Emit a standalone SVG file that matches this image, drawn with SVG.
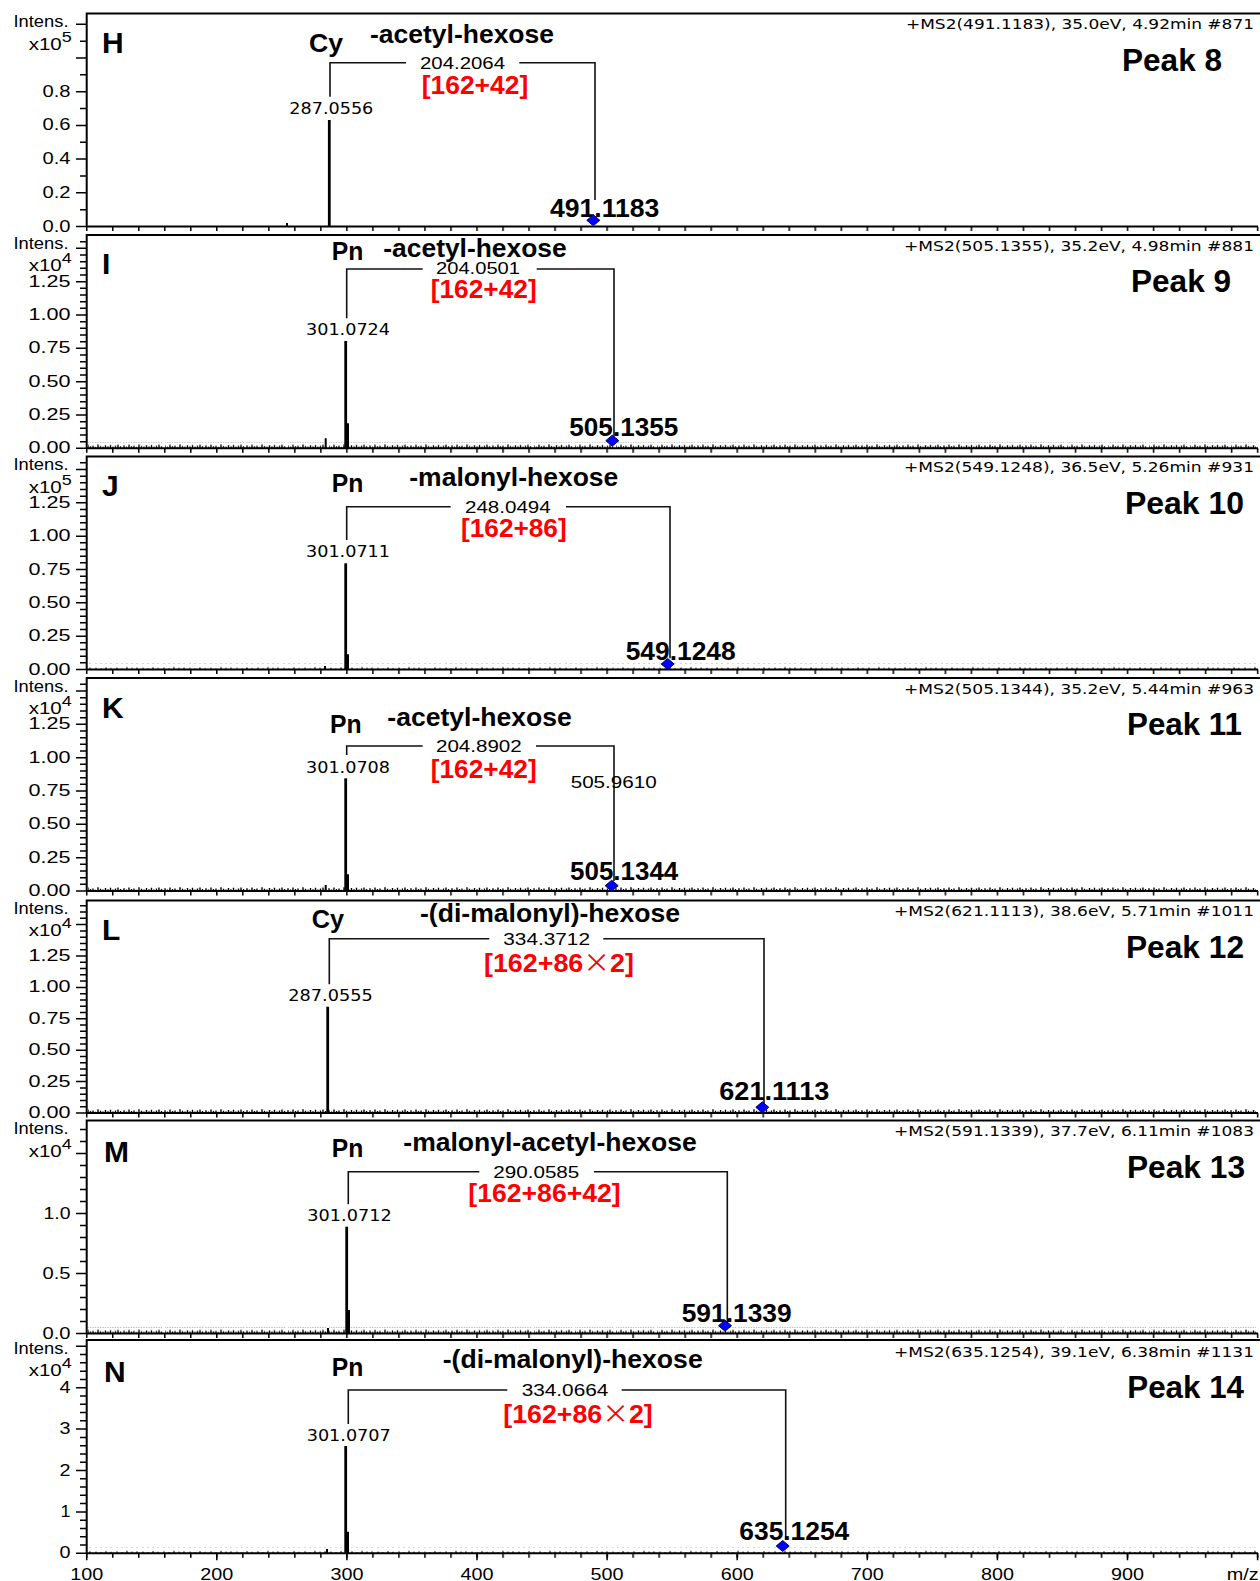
<svg xmlns="http://www.w3.org/2000/svg" xmlns:xlink="http://www.w3.org/1999/xlink" width="1260" height="1581" viewBox="0 0 1260 1581">
<style>
text{font-family:'Liberation Sans',Arial,sans-serif;fill:#000}
.ax{font-size:16px}
.ex{font-size:14px}
.lt{font-size:30px;font-weight:bold}
.cp{font-size:26px;font-weight:bold}
.fr{font-size:16px}
.red{font-size:26px;font-weight:bold;fill:#ff0000}
.ion{font-size:25px;font-weight:bold}
.pk{font-family:'DejaVu Sans',Verdana,sans-serif;font-size:15px}
.hd{font-family:'DejaVu Sans',Verdana,sans-serif;font-size:14px}
.peak{font-size:31px;font-weight:bold}
.cjk{font-family:'Noto Sans CJK SC',sans-serif;font-weight:normal}
.frame{fill:none;stroke:#000;stroke-width:2}
.tick{fill:none;stroke:#000;stroke-width:1.5}
.stick{fill:none;stroke:#000;stroke-width:2.8}
.stick2{fill:none;stroke:#000;stroke-width:2}
.br{fill:none;stroke:#111;stroke-width:1.6}
.dia{fill:#0000ff;stroke:#000066;stroke-width:1}
</style>
<defs>
<pattern id="xt" patternUnits="userSpaceOnUse" x="85.95" y="0" width="26.02" height="10"><rect width="1.5" height="10" fill="#000"/></pattern>
<pattern id="pA" patternUnits="userSpaceOnUse" x="0" y="-6" width="41" height="6"><path d="M1 6V3.2M3.5 6V4.5M6 6V2.6M8.5 6V4M11 6V3.4M13.5 6V4.8M16 6V2.2M18.5 6V3.8M21 6V4.4M23.5 6V3M26 6V4.2M28.5 6V2.8M31 6V4.6M33.5 6V3.5M36 6V2.5M38.5 6V4.1" stroke="#000" stroke-width="1.4" fill="none"/></pattern>
<pattern id="pB" patternUnits="userSpaceOnUse" x="0" y="-6" width="47" height="6"><path d="M2 6V4.4M7 6V4.9M12 6V3.9M17 6V4.7M23 6V4.2M28 6V5M33 6V3.8M38 6V4.6M43 6V4.3" stroke="#000" stroke-width="1.3" fill="none"/></pattern>
<rect id="nzA" x="88" y="-6" width="1168" height="6" fill="url(#pA)"/>
<rect id="nzB" x="88" y="-6" width="1168" height="6" fill="url(#pB)"/>
<path id="ytH" class="tick" d="M76 0h10M80 -16.85h6M76 -33.7h10M80 -50.55h6M76 -67.4h10M80 -84.25h6M76 -101.1h10M80 -117.95h6M76 -134.8h10M80 -151.65h6M76 -168.5h10M80 -185.35h6M76 -202.2h10"/>
<path id="ytQ" class="tick" d="M76 0h10M80 -6.67h6M80 -13.33h6M80 -20h6M80 -26.67h6M76 -33.33h10M80 -40h6M80 -46.67h6M80 -53.33h6M80 -60h6M76 -66.67h10M80 -73.33h6M80 -80h6M80 -86.67h6M80 -93.33h6M76 -100h10M80 -106.67h6M80 -113.33h6M80 -120h6M80 -126.67h6M76 -133.33h10M80 -140h6M80 -146.67h6M80 -153.33h6M80 -160h6M76 -166.67h10M80 -173.33h6M80 -180h6M80 -186.67h6M80 -193.33h6M76 -200h10M80 -206.67h6"/>
<path id="ytL" class="tick" d="M76 0h10M80 -6.28h6M80 -12.56h6M80 -18.84h6M80 -25.12h6M76 -31.4h10M80 -37.68h6M80 -43.96h6M80 -50.24h6M80 -56.52h6M76 -62.8h10M80 -69.08h6M80 -75.36h6M80 -81.64h6M80 -87.92h6M76 -94.2h10M80 -100.48h6M80 -106.76h6M80 -113.04h6M80 -119.32h6M76 -125.6h10M80 -131.88h6M80 -138.16h6M80 -144.44h6M80 -150.72h6M76 -157h10M80 -163.28h6M80 -169.56h6M80 -175.84h6M80 -182.12h6M76 -188.4h10M80 -194.68h6M80 -200.96h6M80 -207.24h6"/>
<path id="ytM" class="tick" d="M76 0h10M80 -12h6M80 -24h6M80 -36h6M80 -48h6M76 -60h10M80 -72h6M80 -84h6M80 -96h6M80 -108h6M76 -120h10M80 -132h6M80 -144h6M80 -156h6M80 -168h6M76 -180h10M80 -192h6M80 -204h6"/>
<path id="ytN" class="tick" d="M76 0h10M80 -8.28h6M80 -16.56h6M80 -24.84h6M80 -33.12h6M76 -41.4h10M80 -49.68h6M80 -57.96h6M80 -66.24h6M80 -74.52h6M76 -82.8h10M80 -91.08h6M80 -99.36h6M80 -107.64h6M80 -115.92h6M76 -124.2h10M80 -132.48h6M80 -140.76h6M80 -149.04h6M80 -157.32h6M76 -165.6h10M80 -173.88h6M80 -182.16h6M80 -190.44h6M80 -198.72h6M76 -207h10"/>
<path id="dia" class="dia" d="M-6.5 0L0 -5.5L6.5 0L0 5.5Z"/>
</defs>
<rect width="1260" height="1581" fill="#fff"/>

<g id="connectors">
<path class="br" d="M330 96.7V62.7H406M519.3 62.7H595V200"/>
<path class="br" d="M346.7 318.3V269H422.7M536.7 269H614V436.7"/>
<path class="br" d="M346.7 540V506.7H450.7M566 506.7H670V658.3"/>
<path class="br" d="M346.7 755V746H422.7M536 746H614V881"/>
<path class="br" d="M329.3 984.3V938.7H489.3M603.3 938.7H764V1103.3"/>
<path class="br" d="M348.3 1204.3V1171.7H479.3M594 1171.7H727.3V1323.3"/>
<path class="br" d="M348.3 1424V1390H507.3M621.7 1390H785.7V1540"/>
</g>

<g id="panel-H">
<path class="frame" d="M86.7 13.5H1260M86.7 12.5V226.5M86 226.5H1258"/>
<rect x="85" y="226.5" width="1175" height="4.5" fill="url(#xt)"/>
<use href="#ytH" y="226.5"/>
<text class="ax" x="68.5" y="27.2" text-anchor="end" textLength="55" lengthAdjust="spacingAndGlyphs">Intens.</text>
<text class="ax" x="61.7" y="49.5" text-anchor="end" textLength="33" lengthAdjust="spacingAndGlyphs">x10</text>
<text class="ex" x="61.7" y="41.5" textLength="10" lengthAdjust="spacingAndGlyphs">5</text>
<text class="ax" x="70.5" y="231.5" text-anchor="end" textLength="28" lengthAdjust="spacingAndGlyphs">0.0</text>
<text class="ax" x="70.5" y="197.8" text-anchor="end" textLength="28" lengthAdjust="spacingAndGlyphs">0.2</text>
<text class="ax" x="70.5" y="164.1" text-anchor="end" textLength="28" lengthAdjust="spacingAndGlyphs">0.4</text>
<text class="ax" x="70.5" y="130.4" text-anchor="end" textLength="28" lengthAdjust="spacingAndGlyphs">0.6</text>
<text class="ax" x="70.5" y="96.7" text-anchor="end" textLength="28" lengthAdjust="spacingAndGlyphs">0.8</text>
<path class="stick" d="M329.3 120V226.5"/>
<path class="stick2" d="M287 223V226.5"/>
<text class="lt" x="102" y="53">H</text>
<text class="cp" x="309" y="51.7" textLength="34" lengthAdjust="spacingAndGlyphs">Cy</text>
<text class="cp" x="370" y="42.7" textLength="184" lengthAdjust="spacingAndGlyphs">-acetyl-hexose</text>
<text class="fr" x="420" y="69" textLength="85" lengthAdjust="spacingAndGlyphs">204.2064</text>
<text class="red" x="421.7" y="94.3" textLength="106.6" lengthAdjust="spacingAndGlyphs">[162+42]</text>
<text class="pk" x="289.3" y="114.3" textLength="84" lengthAdjust="spacingAndGlyphs">287.0556</text>
<text class="ion" x="550" y="216.7" textLength="109.3" lengthAdjust="spacingAndGlyphs">491.1183</text>
<use href="#dia" x="593.3" y="220.3"/>
<text class="hd" x="1254" y="29.3" text-anchor="end" textLength="348" lengthAdjust="spacingAndGlyphs">+MS2(491.1183), 35.0eV, 4.92min #871</text>
<text class="peak" x="1122" y="70.7" textLength="100" lengthAdjust="spacingAndGlyphs">Peak 8</text>
</g>

<g id="panel-I">
<use href="#nzA" y="448.3"/>
<path class="frame" d="M86.7 235H1260M86.7 234V448.3M86 448.3H1258"/>
<rect x="85" y="448.3" width="1175" height="4.5" fill="url(#xt)"/>
<use href="#ytQ" y="448.3"/>
<text class="ax" x="68.5" y="249" text-anchor="end" textLength="55" lengthAdjust="spacingAndGlyphs">Intens.</text>
<text class="ax" x="61.7" y="271.3" text-anchor="end" textLength="33" lengthAdjust="spacingAndGlyphs">x10</text>
<text class="ex" x="61.7" y="263.3" textLength="10" lengthAdjust="spacingAndGlyphs">4</text>
<text class="ax" x="70.5" y="453.3" text-anchor="end" textLength="42" lengthAdjust="spacingAndGlyphs">0.00</text>
<text class="ax" x="70.5" y="420" text-anchor="end" textLength="42" lengthAdjust="spacingAndGlyphs">0.25</text>
<text class="ax" x="70.5" y="386.6" text-anchor="end" textLength="42" lengthAdjust="spacingAndGlyphs">0.50</text>
<text class="ax" x="70.5" y="353.3" text-anchor="end" textLength="42" lengthAdjust="spacingAndGlyphs">0.75</text>
<text class="ax" x="70.5" y="320" text-anchor="end" textLength="42" lengthAdjust="spacingAndGlyphs">1.00</text>
<text class="ax" x="70.5" y="286.6" text-anchor="end" textLength="42" lengthAdjust="spacingAndGlyphs">1.25</text>
<path class="stick" d="M345.7 341V448.3"/>
<path class="stick2" d="M348 423.3V448.3M325.7 438.3V448.3"/>
<text class="lt" x="102" y="274.3">I</text>
<text class="cp" x="331.7" y="260" textLength="31.6" lengthAdjust="spacingAndGlyphs">Pn</text>
<text class="cp" x="383.3" y="257.3" textLength="183.4" lengthAdjust="spacingAndGlyphs">-acetyl-hexose</text>
<text class="fr" x="436" y="274" textLength="84" lengthAdjust="spacingAndGlyphs">204.0501</text>
<text class="red" x="430.7" y="297.7" textLength="106" lengthAdjust="spacingAndGlyphs">[162+42]</text>
<text class="pk" x="306" y="335" textLength="84" lengthAdjust="spacingAndGlyphs">301.0724</text>
<text class="ion" x="569.3" y="436" textLength="109" lengthAdjust="spacingAndGlyphs">505.1355</text>
<use href="#dia" x="612.3" y="440.7"/>
<text class="hd" x="1254" y="250.8" text-anchor="end" textLength="350" lengthAdjust="spacingAndGlyphs">+MS2(505.1355), 35.2eV, 4.98min #881</text>
<text class="peak" x="1131" y="292" textLength="100" lengthAdjust="spacingAndGlyphs">Peak 9</text>
</g>

<g id="panel-J">
<use href="#nzB" y="669.5"/>
<path class="frame" d="M86.7 456.5H1260M86.7 455.5V669.5M86 669.5H1258"/>
<rect x="85" y="669.5" width="1175" height="4.5" fill="url(#xt)"/>
<use href="#ytQ" y="669.5"/>
<text class="ax" x="68.5" y="470.2" text-anchor="end" textLength="55" lengthAdjust="spacingAndGlyphs">Intens.</text>
<text class="ax" x="61.7" y="492.5" text-anchor="end" textLength="33" lengthAdjust="spacingAndGlyphs">x10</text>
<text class="ex" x="61.7" y="484.5" textLength="10" lengthAdjust="spacingAndGlyphs">5</text>
<text class="ax" x="70.5" y="674.5" text-anchor="end" textLength="42" lengthAdjust="spacingAndGlyphs">0.00</text>
<text class="ax" x="70.5" y="641.2" text-anchor="end" textLength="42" lengthAdjust="spacingAndGlyphs">0.25</text>
<text class="ax" x="70.5" y="607.8" text-anchor="end" textLength="42" lengthAdjust="spacingAndGlyphs">0.50</text>
<text class="ax" x="70.5" y="574.5" text-anchor="end" textLength="42" lengthAdjust="spacingAndGlyphs">0.75</text>
<text class="ax" x="70.5" y="541.2" text-anchor="end" textLength="42" lengthAdjust="spacingAndGlyphs">1.00</text>
<text class="ax" x="70.5" y="507.8" text-anchor="end" textLength="42" lengthAdjust="spacingAndGlyphs">1.25</text>
<path class="stick" d="M345.7 563.3V669.5"/>
<path class="stick2" d="M348 654.3V669.5M325 666V669.5"/>
<text class="lt" x="102" y="496">J</text>
<text class="cp" x="331.7" y="491.7" textLength="31.6" lengthAdjust="spacingAndGlyphs">Pn</text>
<text class="cp" x="409.3" y="486" textLength="209" lengthAdjust="spacingAndGlyphs">-malonyl-hexose</text>
<text class="fr" x="465" y="513.3" textLength="85.7" lengthAdjust="spacingAndGlyphs">248.0494</text>
<text class="red" x="461" y="537.2" textLength="105.7" lengthAdjust="spacingAndGlyphs">[162+86]</text>
<text class="pk" x="306" y="556.7" textLength="84" lengthAdjust="spacingAndGlyphs">301.0711</text>
<text class="ion" x="625.7" y="660" textLength="110" lengthAdjust="spacingAndGlyphs">549.1248</text>
<use href="#dia" x="667.7" y="664"/>
<text class="hd" x="1254" y="472.3" text-anchor="end" textLength="350" lengthAdjust="spacingAndGlyphs">+MS2(549.1248), 36.5eV, 5.26min #931</text>
<text class="peak" x="1125" y="513.5" textLength="119" lengthAdjust="spacingAndGlyphs">Peak 10</text>
</g>

<g id="panel-K">
<use href="#nzA" y="891"/>
<path class="frame" d="M86.7 678H1260M86.7 677V891M86 891H1258"/>
<rect x="85" y="891" width="1175" height="4.5" fill="url(#xt)"/>
<use href="#ytQ" y="891"/>
<text class="ax" x="68.5" y="691.7" text-anchor="end" textLength="55" lengthAdjust="spacingAndGlyphs">Intens.</text>
<text class="ax" x="61.7" y="714" text-anchor="end" textLength="33" lengthAdjust="spacingAndGlyphs">x10</text>
<text class="ex" x="61.7" y="706" textLength="10" lengthAdjust="spacingAndGlyphs">4</text>
<text class="ax" x="70.5" y="896" text-anchor="end" textLength="42" lengthAdjust="spacingAndGlyphs">0.00</text>
<text class="ax" x="70.5" y="862.7" text-anchor="end" textLength="42" lengthAdjust="spacingAndGlyphs">0.25</text>
<text class="ax" x="70.5" y="829.3" text-anchor="end" textLength="42" lengthAdjust="spacingAndGlyphs">0.50</text>
<text class="ax" x="70.5" y="796" text-anchor="end" textLength="42" lengthAdjust="spacingAndGlyphs">0.75</text>
<text class="ax" x="70.5" y="762.7" text-anchor="end" textLength="42" lengthAdjust="spacingAndGlyphs">1.00</text>
<text class="ax" x="70.5" y="729.3" text-anchor="end" textLength="42" lengthAdjust="spacingAndGlyphs">1.25</text>
<path class="stick" d="M345.7 778.3V891"/>
<path class="stick2" d="M348 874.3V891M325.7 885V891"/>
<text class="lt" x="102" y="718">K</text>
<text class="cp" x="330" y="732.7" textLength="31.6" lengthAdjust="spacingAndGlyphs">Pn</text>
<text class="cp" x="387.3" y="725.7" textLength="184.4" lengthAdjust="spacingAndGlyphs">-acetyl-hexose</text>
<text class="fr" x="436" y="752.3" textLength="85.7" lengthAdjust="spacingAndGlyphs">204.8902</text>
<text class="red" x="430.7" y="777.7" textLength="106" lengthAdjust="spacingAndGlyphs">[162+42]</text>
<text class="pk" x="306" y="773.3" textLength="84" lengthAdjust="spacingAndGlyphs">301.0708</text>
<text class="fr" x="570.7" y="788.3" textLength="86" lengthAdjust="spacingAndGlyphs">505.9610</text>
<text class="ion" x="570" y="880" textLength="108.3" lengthAdjust="spacingAndGlyphs">505.1344</text>
<use href="#dia" x="611.7" y="885.7"/>
<text class="hd" x="1254" y="693.8" text-anchor="end" textLength="350" lengthAdjust="spacingAndGlyphs">+MS2(505.1344), 35.2eV, 5.44min #963</text>
<text class="peak" x="1127" y="735" textLength="115" lengthAdjust="spacingAndGlyphs">Peak 11</text>
</g>

<g id="panel-L">
<use href="#nzA" y="1113"/>
<path class="frame" d="M86.7 900.5H1260M86.7 899.5V1113M86 1113H1258"/>
<rect x="85" y="1113" width="1175" height="4.5" fill="url(#xt)"/>
<use href="#ytL" y="1113"/>
<text class="ax" x="68.5" y="913.7" text-anchor="end" textLength="55" lengthAdjust="spacingAndGlyphs">Intens.</text>
<text class="ax" x="61.7" y="936" text-anchor="end" textLength="33" lengthAdjust="spacingAndGlyphs">x10</text>
<text class="ex" x="61.7" y="928" textLength="10" lengthAdjust="spacingAndGlyphs">4</text>
<text class="ax" x="70.5" y="1118" text-anchor="end" textLength="42" lengthAdjust="spacingAndGlyphs">0.00</text>
<text class="ax" x="70.5" y="1086.6" text-anchor="end" textLength="42" lengthAdjust="spacingAndGlyphs">0.25</text>
<text class="ax" x="70.5" y="1055.2" text-anchor="end" textLength="42" lengthAdjust="spacingAndGlyphs">0.50</text>
<text class="ax" x="70.5" y="1023.8" text-anchor="end" textLength="42" lengthAdjust="spacingAndGlyphs">0.75</text>
<text class="ax" x="70.5" y="992.4" text-anchor="end" textLength="42" lengthAdjust="spacingAndGlyphs">1.00</text>
<text class="ax" x="70.5" y="961" text-anchor="end" textLength="42" lengthAdjust="spacingAndGlyphs">1.25</text>
<path class="stick" d="M327.7 1006.7V1113"/>
<text class="lt" x="102" y="940">L</text>
<text class="cp" x="311.7" y="928.3" textLength="32.3" lengthAdjust="spacingAndGlyphs">Cy</text>
<text class="cp" x="420" y="921.7" textLength="260" lengthAdjust="spacingAndGlyphs">-(di-malonyl)-hexose</text>
<text class="fr" x="503.3" y="945" textLength="86.7" lengthAdjust="spacingAndGlyphs">334.3712</text>
<text class="red" x="484" y="971.7" textLength="150" lengthAdjust="spacingAndGlyphs">[162+86<tspan class="cjk">×</tspan>2]</text>
<text class="pk" x="288.3" y="1001" textLength="84.4" lengthAdjust="spacingAndGlyphs">287.0555</text>
<text class="ion" x="719.3" y="1100" textLength="110" lengthAdjust="spacingAndGlyphs">621.1113</text>
<use href="#dia" x="762.3" y="1107.3"/>
<text class="hd" x="1254" y="916.3" text-anchor="end" textLength="360" lengthAdjust="spacingAndGlyphs">+MS2(621.1113), 38.6eV, 5.71min #1011</text>
<text class="peak" x="1126" y="957.5" textLength="118" lengthAdjust="spacingAndGlyphs">Peak 12</text>
</g>

<g id="panel-M">
<use href="#nzA" y="1333.5"/>
<path class="frame" d="M86.7 1120.5H1260M86.7 1119.5V1333.5M86 1333.5H1258"/>
<rect x="85" y="1333.5" width="1175" height="4.5" fill="url(#xt)"/>
<use href="#ytM" y="1333.5"/>
<text class="ax" x="68.5" y="1134.2" text-anchor="end" textLength="55" lengthAdjust="spacingAndGlyphs">Intens.</text>
<text class="ax" x="61.7" y="1156.5" text-anchor="end" textLength="33" lengthAdjust="spacingAndGlyphs">x10</text>
<text class="ex" x="61.7" y="1148.5" textLength="10" lengthAdjust="spacingAndGlyphs">4</text>
<text class="ax" x="70.5" y="1338.5" text-anchor="end" textLength="28" lengthAdjust="spacingAndGlyphs">0.0</text>
<text class="ax" x="70.5" y="1278.5" text-anchor="end" textLength="28" lengthAdjust="spacingAndGlyphs">0.5</text>
<text class="ax" x="70.5" y="1218.5" text-anchor="end" textLength="27" lengthAdjust="spacingAndGlyphs">1.0</text>
<path class="stick" d="M346.7 1226.7V1333.5"/>
<path class="stick2" d="M349 1310V1333.5M328 1328V1333.5"/>
<text class="lt" x="104" y="1161.7">M</text>
<text class="cp" x="331.7" y="1156.5" textLength="31.6" lengthAdjust="spacingAndGlyphs">Pn</text>
<text class="cp" x="403.3" y="1151" textLength="293.4" lengthAdjust="spacingAndGlyphs">-malonyl-acetyl-hexose</text>
<text class="fr" x="493.3" y="1178.3" textLength="86" lengthAdjust="spacingAndGlyphs">290.0585</text>
<text class="red" x="468.3" y="1202.2" textLength="152.4" lengthAdjust="spacingAndGlyphs">[162+86+42]</text>
<text class="pk" x="307.3" y="1221" textLength="84.4" lengthAdjust="spacingAndGlyphs">301.0712</text>
<text class="ion" x="681.7" y="1321.7" textLength="110" lengthAdjust="spacingAndGlyphs">591.1339</text>
<use href="#dia" x="725" y="1325.7"/>
<text class="hd" x="1254" y="1136.3" text-anchor="end" textLength="360" lengthAdjust="spacingAndGlyphs">+MS2(591.1339), 37.7eV, 6.11min #1083</text>
<text class="peak" x="1127" y="1177.5" textLength="118" lengthAdjust="spacingAndGlyphs">Peak 13</text>
</g>

<g id="panel-N">
<use href="#nzB" y="1553.3"/>
<path class="frame" d="M86.7 1340H1260M86.7 1339V1553.3M86 1553.3H1258"/>
<rect x="85" y="1553.3" width="1175" height="4.5" fill="url(#xt)"/>
<path class="tick" d="M86.7 1553.3v7M216.8 1553.3v7M346.9 1553.3v7M477 1553.3v7M607.1 1553.3v7M737.2 1553.3v7M867.3 1553.3v7M997.4 1553.3v7M1127.5 1553.3v7M1257.6 1553.3v7"/>
<use href="#ytN" y="1553.3"/>
<text class="ax" x="68.5" y="1354" text-anchor="end" textLength="55" lengthAdjust="spacingAndGlyphs">Intens.</text>
<text class="ax" x="61.7" y="1376.3" text-anchor="end" textLength="33" lengthAdjust="spacingAndGlyphs">x10</text>
<text class="ex" x="61.7" y="1368.3" textLength="10" lengthAdjust="spacingAndGlyphs">4</text>
<text class="ax" x="70.5" y="1558.3" text-anchor="end" textLength="11" lengthAdjust="spacingAndGlyphs">0</text>
<text class="ax" x="70.5" y="1516.9" text-anchor="end" textLength="10" lengthAdjust="spacingAndGlyphs">1</text>
<text class="ax" x="70.5" y="1475.5" text-anchor="end" textLength="11" lengthAdjust="spacingAndGlyphs">2</text>
<text class="ax" x="70.5" y="1434.1" text-anchor="end" textLength="11" lengthAdjust="spacingAndGlyphs">3</text>
<text class="ax" x="70.5" y="1392.7" text-anchor="end" textLength="11" lengthAdjust="spacingAndGlyphs">4</text>
<text class="ax" x="86.7" y="1579.5" text-anchor="middle" textLength="33" lengthAdjust="spacingAndGlyphs" style="font-size:17px">100</text>
<text class="ax" x="216.8" y="1579.5" text-anchor="middle" textLength="33" lengthAdjust="spacingAndGlyphs" style="font-size:17px">200</text>
<text class="ax" x="346.9" y="1579.5" text-anchor="middle" textLength="33" lengthAdjust="spacingAndGlyphs" style="font-size:17px">300</text>
<text class="ax" x="477" y="1579.5" text-anchor="middle" textLength="33" lengthAdjust="spacingAndGlyphs" style="font-size:17px">400</text>
<text class="ax" x="607.1" y="1579.5" text-anchor="middle" textLength="33" lengthAdjust="spacingAndGlyphs" style="font-size:17px">500</text>
<text class="ax" x="737.2" y="1579.5" text-anchor="middle" textLength="33" lengthAdjust="spacingAndGlyphs" style="font-size:17px">600</text>
<text class="ax" x="867.3" y="1579.5" text-anchor="middle" textLength="33" lengthAdjust="spacingAndGlyphs" style="font-size:17px">700</text>
<text class="ax" x="997.4" y="1579.5" text-anchor="middle" textLength="33" lengthAdjust="spacingAndGlyphs" style="font-size:17px">800</text>
<text class="ax" x="1127.5" y="1579.5" text-anchor="middle" textLength="33" lengthAdjust="spacingAndGlyphs" style="font-size:17px">900</text>
<text class="ax" x="1226.7" y="1579.5" textLength="32" lengthAdjust="spacingAndGlyphs" style="font-size:17px">m/z</text>
<path class="stick" d="M345.7 1446V1553.3"/>
<path class="stick2" d="M348 1531.7V1553.3M327 1549V1553.3"/>
<text class="lt" x="104" y="1381.7">N</text>
<text class="cp" x="331.7" y="1376" textLength="31.6" lengthAdjust="spacingAndGlyphs">Pn</text>
<text class="cp" x="442.7" y="1368.3" textLength="260" lengthAdjust="spacingAndGlyphs">-(di-malonyl)-hexose</text>
<text class="fr" x="521.7" y="1396" textLength="86.6" lengthAdjust="spacingAndGlyphs">334.0664</text>
<text class="red" x="503.3" y="1422.7" textLength="149.4" lengthAdjust="spacingAndGlyphs">[162+86<tspan class="cjk">×</tspan>2]</text>
<text class="pk" x="306.7" y="1441" textLength="84" lengthAdjust="spacingAndGlyphs">301.0707</text>
<text class="ion" x="739.3" y="1540" textLength="110" lengthAdjust="spacingAndGlyphs">635.1254</text>
<use href="#dia" x="782.7" y="1546"/>
<text class="hd" x="1254" y="1356.7" text-anchor="end" textLength="360" lengthAdjust="spacingAndGlyphs">+MS2(635.1254), 39.1eV, 6.38min #1131</text>
<text class="peak" x="1127.3" y="1398.3" textLength="116.7" lengthAdjust="spacingAndGlyphs">Peak 14</text>
</g>
</svg>
